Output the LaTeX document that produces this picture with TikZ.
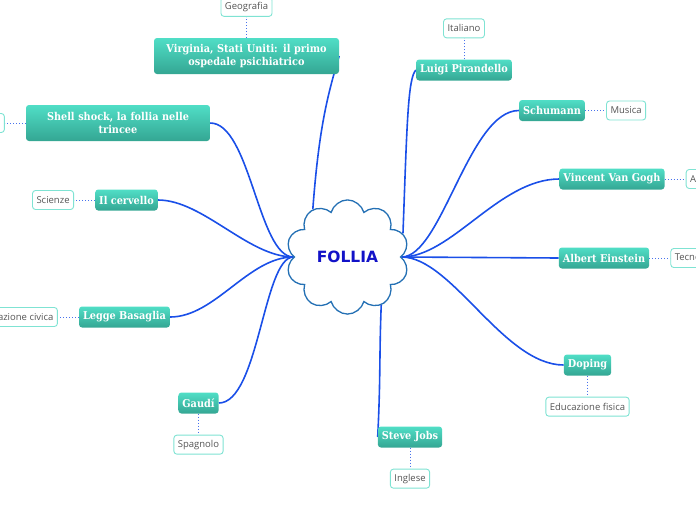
\documentclass[tikz,border=0pt]{standalone}
\usepackage{fontspec}
\setmainfont{Open Sans}
\newfontfamily\topicfont{DejaVu Serif Condensed}
\newfontfamily\rootfont{DejaVu Sans}
\usetikzlibrary{positioning,shapes.symbols,backgrounds}

\definecolor{topicTop}{HTML}{50DEC6}
\definecolor{topicBot}{HTML}{34A693}
\definecolor{linkBlue}{HTML}{1A4FE8}
\definecolor{cloudBlue}{HTML}{2470B4}
\definecolor{rootText}{HTML}{1212C8}
\definecolor{tagLine}{HTML}{7FE3D3}
\definecolor{tagText}{HTML}{555555}

\begin{document}
\begin{tikzpicture}[
    x=1pt, y=-1pt,
    node distance=21pt,
    root/.style={cloud, cloud puffs=10, draw=cloudBlue, line width=1.3pt,
      fill=white, minimum width=123pt, minimum height=104pt,
      font=\rootfont\bfseries\fontsize{15.5}{15}\selectfont, text=rootText},
    topic/.style={rounded corners=3pt, top color=topicTop, bottom color=topicBot,
      text=white, font=\topicfont\bfseries\fontsize{10.8}{13.5}\selectfont,
      inner xsep=4pt, inner ysep=2pt, minimum height=21pt, align=center},
    tag/.style={draw=tagLine, rounded corners=3pt, fill=white, line width=0.9pt,
      text=tagText, font=\fontsize{9.5}{11}\selectfont, inner xsep=4pt,
      minimum height=19pt},
    link/.style={linkBlue, line width=1.6pt},
    dots/.style={linkBlue!80, line width=1pt, dotted},
  ]
    \useasboundingbox (0,0) rectangle (696,520);

    % Central idea
    \node[root] (root) at (347.5,257) {FOLLIA};

    % Topics, left side
    \node[topic, text width=177pt, minimum height=36pt] (virginia) at (246.5,56) {Virginia, Stati Uniti: il primo\\ospedale psichiatrico};
    \node[topic, text width=176pt, minimum height=36pt] (shell) at (118,123) {Shell shock, la follia nelle\\trincee};
    \node[topic] (cervello) at (126.5,200) {Il cervello};
    \node[topic] (basaglia) at (124.5,317) {Legge Basaglia};
    \node[topic] (gaudi) at (198.5,403) {Gaudí};

    % Topics, right side
    \node[topic] (luigi) at (464,70) {Luigi Pirandello};
    \node[topic] (schumann) at (552,110.5) {Schumann};
    \node[topic] (vangogh) at (612,179) {Vincent Van Gogh};
    \node[topic] (einstein) at (604,258) {Albert Einstein};
    \node[topic] (doping) at (587.5,365) {Doping};
    \node[topic] (steve) at (410,437) {Steve Jobs};

    % Subjects
    \node[tag, above=of virginia] (geografia) {Geografia};
    \node[tag, left=of shell] (storia) {Storia};
    \node[tag, left=of cervello] (scienze) {Scienze};
    \node[tag, left=of basaglia] (civica) {Educazione civica};
    \node[tag, below=of gaudi] (spagnolo) {Spagnolo};
    \node[tag, above=of luigi] (italiano) {Italiano};
    \node[tag, right=of schumann] (musica) {Musica};
    \node[tag, right=of vangogh] (arte) {Arte};
    \node[tag, right=of einstein] (tecnologia) {Tecnologia};
    \node[tag, below=of doping] (fisica) {Educazione fisica};
    \node[tag, below=of steve] (inglese) {Inglese};

    \begin{scope}[on background layer]
      % Branches from the cloud
      \draw[link] (root.126) .. controls +(6,-80) and +(-12,40) .. (virginia.east);
      \draw[link] (root.180) .. controls +(-35,0) and +(40,0) .. (shell.east);
      \draw[link] (root.180) .. controls +(-45,0) and +(45,0) .. (cervello.east);
      \draw[link] (root.180) .. controls +(-45,0) and +(45,0) .. (basaglia.east);
      \draw[link] (root.180) .. controls +(-30,0) and +(40,0) .. (gaudi.east);
      \draw[link] (root.23) .. controls +(4,-110) and +(-8,8) .. (luigi.west);
      \draw[link] (root.0) .. controls +(40,0) and +(-50,0) .. (schumann.west);
      \draw[link] (root.0) .. controls +(50,0) and +(-60,0) .. (vangogh.west);
      \draw[link] (root.0) -- (einstein.west);
      \draw[link] (root.0) .. controls +(50,0) and +(-60,0) .. (doping.west);
      \draw[link] (root.-55) .. controls +(-2,50) and +(3,-60) .. (steve.west);

      % Subject connectors
      \draw[dots] (virginia) -- (geografia);
      \draw[dots] (shell) -- (storia);
      \draw[dots] (cervello) -- (scienze);
      \draw[dots] (basaglia) -- (civica);
      \draw[dots] (gaudi) -- (spagnolo);
      \draw[dots] (luigi) -- (italiano);
      \draw[dots] (schumann) -- (musica);
      \draw[dots] (vangogh) -- (arte);
      \draw[dots] (einstein) -- (tecnologia);
      \draw[dots] (doping) -- (fisica);
      \draw[dots] (steve) -- (inglese);
    \end{scope}
  \end{tikzpicture}
\end{document}
